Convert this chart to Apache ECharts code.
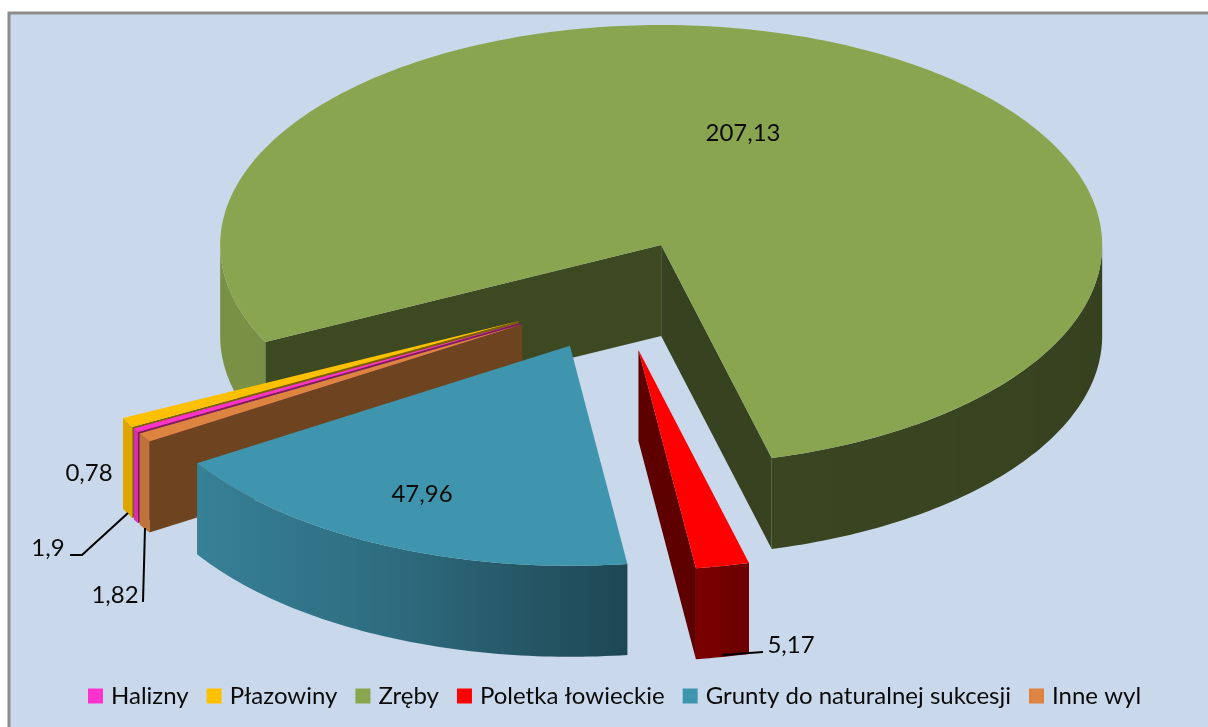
<!DOCTYPE html>
<html><head><meta charset="utf-8">
<style>html,body{margin:0;padding:0;background:#fff}#c{width:1208px;height:727px}</style>
<script src="https://cdn.jsdelivr.net/npm/echarts@6/dist/echarts.min.js"></script>
</head><body><div id="c"></div>
<script>
// Data
const categories = ['Halizny','Płazowiny','Zręby','Poletka łowieckie','Grunty do naturalnej sukcesji','Inne wyl'];
const values = [0.78,1.9,207.13,5.17,47.96,1.82];
const valueLabels = ['0,78','1,9','207,13','5,17','47,96','1,82'];
// Styles
const topColors = ['#ff33cc','#ffc000','#8aa54f','#ff0000','#3f94ae','#dd8440'];
const faceColors = ['#7d1a64','#7d5e00','#3d4a21','#5e0000','#1f4a5a','#6e431f'];
const endFaceColors = ['#7d1a64','#7d5e00','#374320','#5e0000','#1f4a5a','#6e431f'];
const zOrder = [3,2,1,6,5,4];
const nudgeX = [2,2,-1,1.5,1.5,2];
const labelPos = [[89,473],[48,548],[743,133],[791,645],[422,494],[115,595]];
const leaders = [[],[[128,513],[82,555],[70,555]],[],[[722,655],[763,652]],[],[[145,528],[143,602]]];
// Projection of the tilted pie
const CX=615.7, CY=295.5, RX=441, RY=220, DEPTH=91, EXPLODE=0.2525, START=150.2;
const shadeStops=[[0,.39],[75,.42],[85,.5],[115,.74],[147,.87],[180,.88]];
const total = values.reduce((a,b)=>a+b,0);
const rad=d=>d*Math.PI/180;
function shade(a){
  a=((a%360)+360)%360;
  for(let i=1;i<shadeStops.length;i++){
    if(a<=shadeStops[i][0]){
      const p=shadeStops[i-1],q=shadeStops[i],t=(a-p[0])/(q[0]-p[0]);
      return p[1]+(q[1]-p[1])*t;
    }
  }
  return .88;
}
function darken(hex,f){
  const n=parseInt(hex.slice(1),16);
  return 'rgb('+[(n>>16)&255,(n>>8)&255,n&255].map(c=>Math.round(c*f)).join(',')+')';
}
function wall(o,a,b,color){
  if(b-a<=0) return null;
  const up=[],down=[],stops=[];
  const n=Math.max(2,Math.ceil(b-a));
  const pts=[];
  for(let i=0;i<=n;i++){
    const t=a+(b-a)*i/n;
    const x=o[0]+RX*Math.cos(rad(t)), y=o[1]+RY*Math.sin(rad(t));
    up.push([x,y]);down.unshift([x,y+DEPTH]);pts.push([x,t]);
  }
  const xs=pts.map(p=>p[0]),mn=Math.min(...xs),mx=Math.max(...xs);
  pts.sort((p,q)=>p[0]-q[0]);
  pts.forEach(p=>stops.push({offset:(p[0]-mn)/(mx-mn||1),color:darken(color,shade(p[1]))}));
  return {type:'polygon',shape:{points:up.concat(down)},
    style:{fill:new echarts.graphic.LinearGradient(0,0,1,0,stops),stroke:null}};
}
function face(o,a,color){
  const x=o[0]+RX*Math.cos(rad(a)),y=o[1]+RY*Math.sin(rad(a));
  return {type:'polygon',shape:{points:[[o[0],o[1]],[x,y],[x,y+DEPTH],[o[0],o[1]+DEPTH]]},style:{fill:color}};
}
function renderSlice(params,api){
  const i=params.seriesIndex;
  const prev=values.slice(0,i).reduce((s,v)=>s+v,0);
  const a1=START+prev/total*360;
  const a2=a1+api.value(0)/total*360;
  const mid=rad((a1+a2)/2);
  const o=[CX+nudgeX[i]+EXPLODE*RX*Math.cos(mid),CY+EXPLODE*RY*Math.sin(mid)];
  const children=[];
  if(Math.cos(rad(a1))<0) children.push(face(o,a1,faceColors[i]));
  if(Math.cos(rad(a2))>0) children.push(face(o,a2,endFaceColors[i]));
  // outer wall: only the front half of the rim (sin > 0)
  for(let k=0;k<2;k++){
    const lo=Math.max(a1,k*360),hi=Math.min(a2,180+k*360);
    const w=wall(o,lo,hi,topColors[i]);
    if(w) children.push(w);
  }
  const top=[[o[0],o[1]]];
  const n=Math.max(2,Math.ceil(a2-a1));
  for(let j=0;j<=n;j++){
    const t=rad(a1+(a2-a1)*j/n);
    top.push([o[0]+RX*Math.cos(t),o[1]+RY*Math.sin(t)]);
  }
  children.push({type:'polygon',shape:{points:top},style:{fill:topColors[i]}});
  if(leaders[i].length) children.push({type:'polyline',shape:{points:leaders[i]},style:{stroke:'#000',lineWidth:2,fill:null}});
  children.push({type:'text',x:labelPos[i][0],y:labelPos[i][1],z2:50,
    style:{text:valueLabels[i],fill:'#0a0a0a',font:'24px Lato',align:'center',verticalAlign:'middle'}});
  return {type:'group',children};
}
const chart=echarts.init(document.getElementById('c'),null,{renderer:'canvas'});
chart.setOption({
  animation:false,
  color:topColors,
  graphic:[{type:'rect',z:-10,silent:true,shape:{x:9,y:13,width:1300,height:800},
    style:{fill:'#c9d8eb',stroke:'#8c8c8c',lineWidth:3}}],
  legend:{left:83,top:679,itemWidth:15,itemHeight:15,itemGap:18,icon:'rect',selectedMode:false,
    data:categories,itemStyle:{borderWidth:0},
    textStyle:{fontFamily:'Lato',fontSize:24,color:'#0a0a0a',padding:[0,0,0,3]}},
  series:categories.map((name,i)=>({
    type:'custom',name,coordinateSystem:'none',silent:true,z:zOrder[i]+1,
    itemStyle:{color:topColors[i]},
    renderItem:renderSlice,data:[[values[i]]]
  }))
});
</script></body></html>
